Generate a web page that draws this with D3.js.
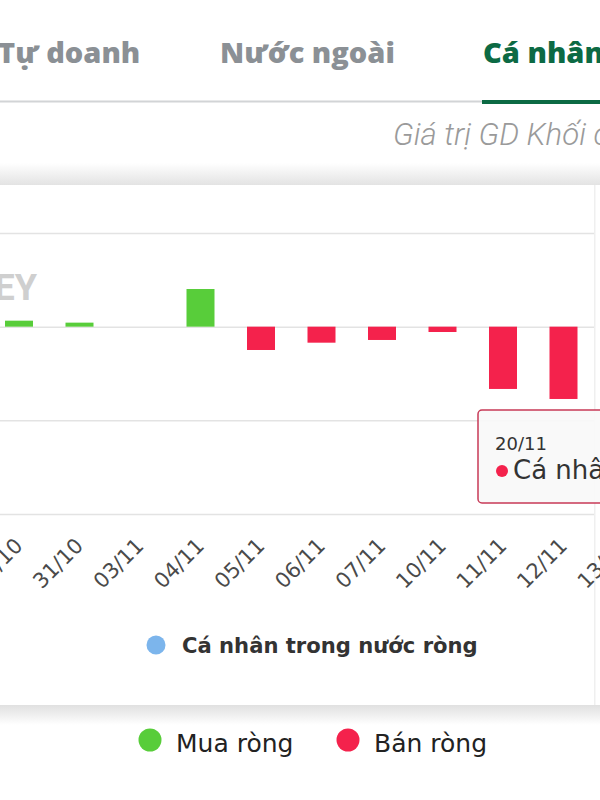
<!DOCTYPE html>
<html><head><meta charset="utf-8">
<script src="https://cdn.jsdelivr.net/npm/d3@7"></script>
<style>html,body{margin:0;padding:0;background:#fff;overflow:hidden}</style>
</head><body>
<svg id="c" width="600" height="800"></svg>
<script>
// ---- data ----
const tabs = ["Tự doanh", "Nước ngoài", "Cá nhân"];
const subtitle = "Giá trị GD Khối cá nhân";
const categories = ["30/10","31/10","03/11","04/11","05/11","06/11","07/11","10/11","11/11","12/11","13/11"];
const netValues = [64, 43, 0, 402, -249, -171, -142, -57, -665, -772, -480];
const yTicks = [1000, 0, -1000, -2000];
const seriesName = "Cá nhân trong nước ròng";
const legendItems = ["Mua ròng", "Bán ròng"];
const tooltipDate = "20/11";
const watermark = "EY";

// ---- styles ----
const GREEN = "#58cd3a", RED = "#f4224c", BLUE = "#7cb5ec";
const FONT = "'DejaVu Sans', Verdana, sans-serif";

const svg = d3.select("#c");
const defs = svg.append("defs");
const gTop = defs.append("linearGradient").attr("id","shTop").attr("x1",0).attr("y1",0).attr("x2",0).attr("y2",1);
gTop.append("stop").attr("offset","0%").attr("stop-color","#ffffff");
gTop.append("stop").attr("offset","100%").attr("stop-color","#e3e3e3");
const gBot = defs.append("linearGradient").attr("id","shBot").attr("x1",0).attr("y1",0).attr("x2",0).attr("y2",1);
gBot.append("stop").attr("offset","0%").attr("stop-color","#e0e0e0");
gBot.append("stop").attr("offset","100%").attr("stop-color","#ffffff");

// font size that makes `txt` span `target` px
function fitSize(txt, family, weight, style, target){
  const t = svg.append("text").attr("font-family",family).attr("font-weight",weight)
    .attr("font-style",style).attr("font-size",20).text(txt);
  const w = t.node().getComputedTextLength(); t.remove();
  return 20 * target / w;
}

// ---- tabs ----
const TABFONT = "'Open Sans', Roboto, sans-serif";
const tabSize = fitSize("Nước ngoài", TABFONT, 800, "normal", 175);
const tabX = [-2, 220, 483];
svg.selectAll("text.tab").data(tabs).join("text")
  .attr("class","tab")
  .attr("x",(d,i)=>tabX[i]).attr("y",63)
  .attr("font-family",TABFONT).attr("font-weight",800)
  .attr("font-size",tabSize)
  .attr("fill",(d,i)=> i===2 ? "#0c6a44" : "#8b9095")
  .text(d=>d);
svg.append("rect").attr("x",0).attr("y",100.5).attr("width",600).attr("height",2).attr("fill","#d2d4d6");
svg.append("rect").attr("x",482).attr("y",100).attr("width",118).attr("height",4).attr("fill","#0c6a44");

const SUBFONT = "Roboto, sans-serif";
const subSize = fitSize("Giá trị GD Khối", SUBFONT, 300, "italic", 193);
svg.append("text").attr("x",393).attr("y",145)
  .attr("font-family",SUBFONT).attr("font-style","italic").attr("font-weight",300)
  .attr("font-size",subSize).attr("fill","#9a9a9a").text(subtitle);

// ---- card ----
svg.append("rect").attr("x",0).attr("y",163).attr("width",600).attr("height",22).attr("fill","url(#shTop)");
svg.append("rect").attr("x",0).attr("y",705).attr("width",600).attr("height",20).attr("fill","url(#shBot)");
svg.append("rect").attr("x",-10).attr("y",185).attr("width",605).attr("height",520).attr("fill","#fff");
svg.append("rect").attr("x",594).attr("y",185).attr("width",1.5).attr("height",520).attr("fill","#efefef");

// ---- scales ----
const step = 60.5;
const x = d3.scaleBand().domain(categories)
  .range([19 - step/2, 19 - step/2 + step*categories.length])
  .paddingInner(1 - 28/step).paddingOuter((1 - 28/step)/2);
const y = d3.scaleLinear().domain([-2000, 1000]).range([514, 233]);

// gridlines
const grid = svg.append("g")
  .call(d3.axisLeft(y).tickValues(yTicks).tickSize(-594).tickFormat(""));
grid.select(".domain").remove();
grid.selectAll(".tick line").attr("stroke","#e3e3e3").attr("stroke-width",1.5);

// watermark
svg.append("text").attr("x",37).attr("y",300).attr("text-anchor","end")
  .attr("font-family","Roboto, sans-serif").attr("font-weight",700).attr("font-size",36)
  .attr("fill","#cfcfcf").text(watermark);

// bars
svg.append("g").selectAll("rect").data(categories).join("rect")
  .attr("x", d=>x(d))
  .attr("width", x.bandwidth())
  .attr("y", (d,i)=> y(Math.max(0, netValues[i])))
  .attr("height", (d,i)=> Math.abs(y(netValues[i]) - y(0)))
  .attr("fill", (d,i)=> netValues[i] >= 0 ? GREEN : RED);

// x axis labels
const xa = svg.append("g").attr("transform","translate(0,514)")
  .call(d3.axisBottom(x).tickSize(0).tickPadding(0));
xa.select(".domain").remove();
xa.selectAll(".tick text")
  .attr("font-family",FONT).attr("font-size",21).attr("fill","#4a4a4a")
  .attr("text-anchor","end")
  .attr("dy",null).attr("y",null)
  .attr("transform","translate(5,33) rotate(-45)");

// legend in card
const legSize = fitSize(seriesName, FONT, 700, "normal", 296);
svg.append("circle").attr("cx",156).attr("cy",645).attr("r",9.5).attr("fill",BLUE);
svg.append("text").attr("x",182).attr("y",653)
  .attr("font-family",FONT).attr("font-weight",700).attr("font-size",legSize).attr("fill","#333")
  .text(seriesName);

// tooltip
svg.append("rect").attr("x",478).attr("y",410).attr("width",140).attr("height",93).attr("rx",4)
  .attr("fill","#f8f8f8").attr("fill-opacity",0.92).attr("stroke","#c73a57").attr("stroke-width",1.5);
svg.append("text").attr("x",495).attr("y",450).attr("font-family",FONT).attr("font-size",18).attr("fill","#333").text(tooltipDate);
svg.append("circle").attr("cx",502).attr("cy",471).attr("r",6).attr("fill",RED);
svg.append("text").attr("x",513).attr("y",479).attr("font-family",FONT).attr("font-size",26).attr("fill","#333").text(seriesName);

// bottom legend
const legX = [150, 348], legC = [GREEN, RED];
legendItems.forEach((t,i)=>{
  svg.append("circle").attr("cx",legX[i]).attr("cy",740).attr("r",11.5).attr("fill",legC[i]);
  svg.append("text").attr("x",legX[i]+26).attr("y",752)
    .attr("font-family",FONT).attr("font-size",25).attr("fill","#222").text(t);
});
</script>
</body></html>
